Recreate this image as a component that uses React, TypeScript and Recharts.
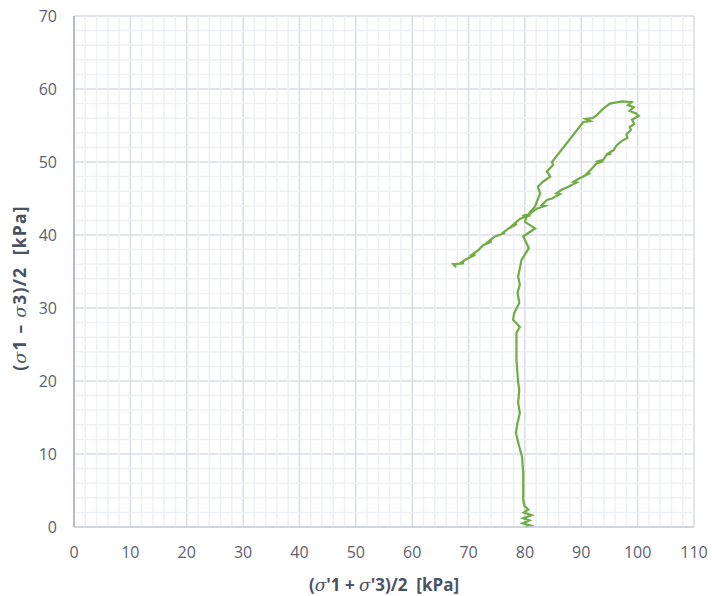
import React from "react";
import { LineChart, Line, XAxis, YAxis, CartesianGrid, ReferenceLine } from "recharts";

// Stress path: stem (isotropic consolidation then shear), upper branch, return branch
const stemP = [80.0, 81.0, 79.6, 80.8, 79.7, 81.2, 79.8, 80.6, 79.9, 79.7, 79.7, 79.7, 79.5, 79.0, 78.4, 78.7, 79.1, 78.8, 79.0, 78.8, 78.5, 78.5, 79.1, 77.9, 78.1, 79.0, 78.7, 79.1, 78.8, 79.4, 80.7, 79.7, 81.8, 80.0, 80.3, 81.0];
const stemQ = [0.0, 0.2, 0.5, 0.9, 1.2, 1.6, 2.0, 2.4, 2.9, 3.7, 5.5, 7.4, 9.6, 11.0, 12.9, 14.3, 15.6, 17.0, 18.8, 19.8, 22.9, 26.6, 27.4, 28.4, 29.3, 30.7, 32.1, 33.2, 34.3, 36.6, 38.2, 39.8, 40.9, 41.8, 42.5, 43.2];

const upperP = [81.8, 82.7, 82.3, 83.2, 84.5, 83.9, 85.0, 84.8, 90.4, 91.6, 90.8, 92.0, 92.7, 93.9, 95.1, 97.2, 98.9, 98.3, 99.3, 98.6, 99.8, 100.2, 99.0, 99.4, 98.6, 98.8, 98.0, 98.2, 97.2];
const upperQ = [43.9, 45.7, 46.6, 47.3, 48.0, 48.7, 49.6, 50.0, 55.5, 55.6, 55.9, 56.0, 56.4, 57.3, 58.0, 58.3, 58.2, 57.8, 57.5, 57.0, 56.6, 56.3, 55.8, 55.2, 54.8, 54.4, 53.8, 53.3, 52.9];

const returnP = [96.3, 95.7, 94.8, 95.3, 94.5, 93.9, 93.0, 93.5, 92.7, 91.9, 91.0, 91.6, 89.8, 88.6, 89.2, 87.7, 86.5, 85.6, 86.2, 84.8, 83.9, 83.0, 83.6, 82.1, 80.9, 79.5, 81.0, 80.0, 79.1, 77.9, 78.6, 77.1, 75.9, 76.5, 74.7, 73.5, 74.1, 72.6, 71.7, 70.6, 71.2, 69.4, 68.5, 69.2, 67.3, 67.8];
const returnQ = [52.3, 51.6, 51.2, 51.1, 51.0, 50.3, 50.1, 50.0, 49.8, 49.1, 48.4, 48.5, 47.8, 47.3, 47.2, 46.6, 46.2, 45.7, 45.6, 45.0, 44.8, 44.1, 44.0, 43.6, 42.9, 42.6, 42.7, 42.5, 42.2, 41.4, 41.5, 40.9, 40.2, 40.3, 39.8, 39.1, 39.1, 38.6, 37.9, 37.3, 37.3, 36.6, 36.1, 36.1, 36.0, 35.6];

const xTicks = [0, 10, 20, 30, 40, 50, 60, 70, 80, 90, 100, 110];
const yTicks = [0, 10, 20, 30, 40, 50, 60, 70];
const xMinorTicks = Array.from({ length: 56 }, (_, i) => i * 2).filter((v) => v % 10 !== 0);
const yMinorTicks = Array.from({ length: 36 }, (_, i) => i * 2).filter((v) => v % 10 !== 0);

const allP = [...stemP, ...upperP, ...returnP];
const allQ = [...stemQ, ...upperQ, ...returnQ];
const data = allP.map((p, i) => ({ p, q: allQ[i] }));

const tickStyle = { fill: "#5b6170", fontSize: 16 };
const sig = { fontFamily: "'DejaVu Serif', serif", fontStyle: "italic" as const, fontWeight: 400 };

export default function App() {
  return (
    <div style={{ position: "absolute", left: 0, top: 0, width: 712, height: 596, fontFamily: "'Open Sans', sans-serif", background: "#fff" }}>
      <LineChart width={712} height={596} data={data} margin={{ top: 16, right: 18, left: 0, bottom: 0 }}>
        {xMinorTicks.map((v) => (
          <ReferenceLine key={"vx" + v} x={v} stroke="#eef0f4" strokeWidth={1.5} />
        ))}
        {yMinorTicks.map((v) => (
          <ReferenceLine key={"hy" + v} y={v} stroke="#eef0f4" strokeWidth={1.5} />
        ))}
        <CartesianGrid stroke="#d9dde6" strokeWidth={1.5} />
        <XAxis
          dataKey="p"
          type="number"
          domain={[0, 110]}
          ticks={xTicks}
          tickLine={false}
          axisLine={{ stroke: "#cbd0da", strokeWidth: 1.5 }}
          tick={tickStyle}
          tickMargin={14}
          height={69}
        />
        <YAxis
          type="number"
          domain={[0, 70]}
          ticks={yTicks}
          tickLine={false}
          axisLine={{ stroke: "#b3bccb", strokeWidth: 2 }}
          tick={tickStyle}
          tickMargin={11}
          width={74}
        />
        <Line
          dataKey="q"
          type="linear"
          stroke="#70ad47"
          strokeWidth={2.25}
          dot={false}
          isAnimationActive={false}
        />
      </LineChart>
      <div
        style={{
          position: "absolute",
          left: 0,
          top: 574,
          width: 768,
          textAlign: "center",
          fontWeight: 700,
          fontSize: 17,
          color: "#4a5263",
          lineHeight: "22px",
          whiteSpace: "nowrap",
        }}
      >
        (<span style={sig}>σ</span>'1 + <span style={sig}>σ</span>'3)/2&nbsp;&nbsp;[kPa]
      </div>
      <div
        style={{
          position: "absolute",
          left: 19,
          top: 288,
          transform: "translate(-50%, -50%) rotate(-90deg)",
          fontWeight: 700,
          fontSize: 17.5,
          letterSpacing: 1.2,
          color: "#4a5263",
          lineHeight: "22px",
          whiteSpace: "nowrap",
        }}
      >
        (<span style={sig}>σ</span>1&nbsp;–&nbsp;<span style={sig}>σ</span>3)/2&nbsp;&nbsp;[kPa]
      </div>
    </div>
  );
}
